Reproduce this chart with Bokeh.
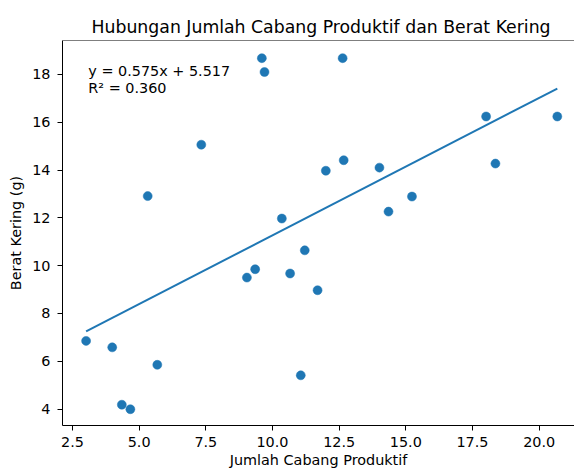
from bokeh.plotting import figure
from bokeh.models import Label, Span, FixedTicker, PrintfTickFormatter, Range1d
from bokeh.embed import file_html
from bokeh.resources import INLINE

# data
cabang = [3.01, 3.99, 4.35, 4.67, 5.32, 5.68, 7.33, 9.04, 9.35, 9.60, 9.70, 10.35,
          10.66, 11.06, 11.21, 11.69, 12.00, 12.63, 12.67, 14.01, 14.35, 15.23,
          18.01, 18.36, 20.68]
berat = [6.85, 6.58, 4.18, 3.99, 12.91, 5.85, 15.06, 9.50, 9.85, 18.68, 18.10, 11.97,
         9.67, 5.41, 10.64, 8.97, 13.97, 18.68, 14.41, 14.10, 12.26, 12.89,
         16.24, 14.27, 16.24]
slope = 0.575
intercept = 5.517
r2 = 0.360
x_ticks = [2.5, 5.0, 7.5, 10.0, 12.5, 15.0, 17.5, 20.0]
y_ticks = [4, 6, 8, 10, 12, 14, 16, 18]

FONT = "DejaVu Sans"
FS = "14.4px"
BLUE = "#1f77b4"

x0, x1 = 2.125, 21.325
y0, y1 = 3.31, 19.42

p = figure(width=574, height=471, output_backend="svg", toolbar_location=None,
           x_range=Range1d(x0, x1), y_range=Range1d(y0, y1),
           min_border_left=62, min_border_right=0, min_border_top=40,
           min_border_bottom=46)
p.outline_line_color = None
p.background_fill_color = "white"
p.border_fill_color = "white"
p.xgrid.visible = False
p.ygrid.visible = False

p.title.text = "Hubungan Jumlah Cabang Produktif dan Berat Kering"
p.title.align = "left"
p.title.offset = 29
p.title.text_font = FONT
p.title.text_font_size = "17.3px"
p.title.text_font_style = "normal"
p.title.text_color = "black"
p.title.standoff = 8

for ax in (p.xaxis[0], p.yaxis[0]):
    ax.axis_line_color = "black"
    ax.axis_line_width = 1
    ax.major_tick_line_color = "black"
    ax.major_tick_line_width = 1
    ax.major_tick_in = 0
    ax.major_tick_out = 5
    ax.minor_tick_line_color = None
    ax.major_label_text_font = FONT
    ax.major_label_text_font_size = FS
    ax.major_label_text_color = "black"
    ax.axis_label_text_font = FONT
    ax.axis_label_text_font_size = FS
    ax.axis_label_text_font_style = "normal"
    ax.axis_label_text_color = "black"

p.xaxis.axis_label = "Jumlah Cabang Produktif"
p.yaxis.axis_label = "Berat Kering (g)"
p.xaxis.ticker = FixedTicker(ticks=x_ticks)
p.yaxis.ticker = FixedTicker(ticks=y_ticks)
p.xaxis.formatter = PrintfTickFormatter(format="%.1f")
p.xaxis.major_label_standoff = 6
p.yaxis.major_label_standoff = 7
p.xaxis.axis_label_standoff = 2
p.yaxis.axis_label_standoff = 5

# top spine
p.add_layout(Span(location=y1, dimension="width", line_color="black", line_width=1))

p.scatter(cabang, berat, size=9, fill_color=BLUE, line_color=BLUE, line_width=0.5)

lx = [min(cabang), max(cabang)]
ly = [slope * v + intercept for v in lx]
p.line(lx, ly, line_color=BLUE, line_width=2)

p.add_layout(Label(x=3.093, y=18.125, text=f"y = {slope:.3f}x + {intercept:.3f}",
                   text_font=FONT, text_font_size=FS, text_color="black",
                   text_baseline="alphabetic"))
p.add_layout(Label(x=3.093, y=17.443, text=f"R\u00b2 = {r2:.3f}",
                   text_font=FONT, text_font_size=FS, text_color="black",
                   text_baseline="alphabetic"))

open("out.html", "w").write(file_html(p, INLINE))
